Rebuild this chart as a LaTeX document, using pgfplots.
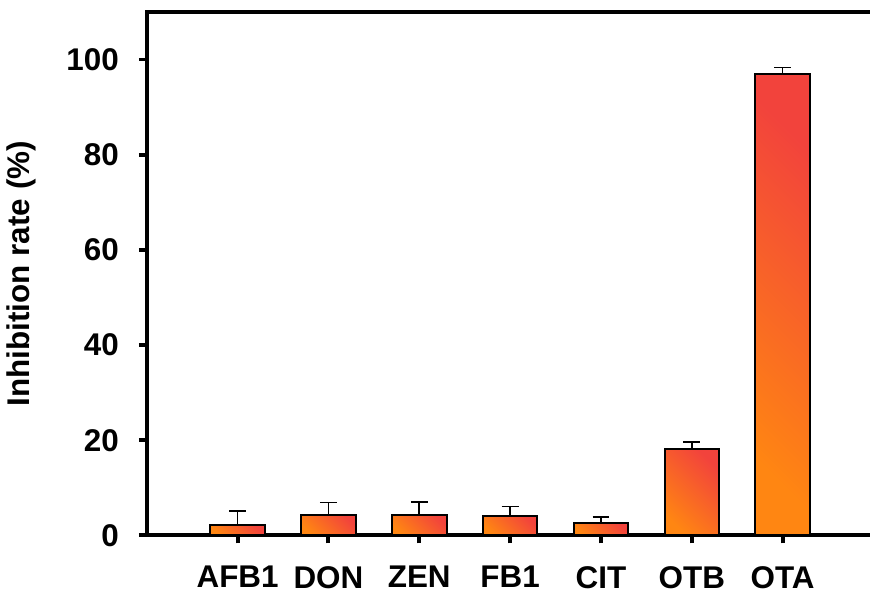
\documentclass[border=0pt]{standalone}
\usepackage{pgfplots}
\pgfplotsset{compat=1.18}
\usepackage{fontspec}
\setmainfont{Liberation Sans}
\definecolor{barOrange}{HTML}{FF8612}
\definecolor{barRed}{HTML}{F2433C}
\pgfplotsset{
  mybar/.style={ybar, bar width=0.6, bar shift=0pt, draw=black, line width=1pt,
    bottom color=barOrange, top color=barRed, shading angle=-45,
    error bars/.cd, y dir=plus, y explicit,
    error bar style={line width=0.8pt, black, shade=false},
    error mark options={rotate=90, mark size=4.25pt, line width=0.8pt, black, shade=false}},
}
\begin{document}
\begin{tikzpicture}
\begin{axis}[
  scale only axis,
  width=363pt, height=263.5pt,
  xmin=-1, xmax=6.94, ymin=0, ymax=110,
  axis x line*=box, axis y line*=left,
  axis line style={line width=2pt, black, line cap=rect},
  xtick={0,1,2,3,4,5,6},
  xticklabels={AFB1,DON,ZEN,FB1,CIT,OTB,OTA},
  ytick={0,20,40,60,80,100},
  xtick pos=bottom, ytick pos=left,
  tick align=outside,
  major tick length=4pt,
  tick style={line width=2pt, black},
  /pgf/number format/assume math mode=true,
  ticklabel style={font=\fontsize{15.8}{17}\selectfont\bfseries},
  yticklabel style={xshift=-6.5pt},
  xticklabel style={yshift=-8pt},
  ylabel={Inhibition rate (\%)},
  ylabel style={at={(axis description cs:-0.174,0.5)}, anchor=center,
    font=\fontsize{15.8}{17}\selectfont\bfseries},
  clip=false,
]
\addplot[mybar] coordinates {(0,2.2) +- (0,2.9)};
\addplot[mybar] coordinates {(1,4.4) +- (0,2.5)};
\addplot[mybar] coordinates {(2,4.4) +- (0,2.6)};
\addplot[mybar] coordinates {(3,4.1) +- (0,2.0)};
\addplot[mybar] coordinates {(4,2.7) +- (0,1.2)};
\addplot[mybar] coordinates {(5,18.2) +- (0,1.4)};
\addplot[mybar] coordinates {(6,96.9) +- (0,1.4)};
\end{axis}
\path ([yshift=6pt]current axis.north);
\end{tikzpicture}
\end{document}
